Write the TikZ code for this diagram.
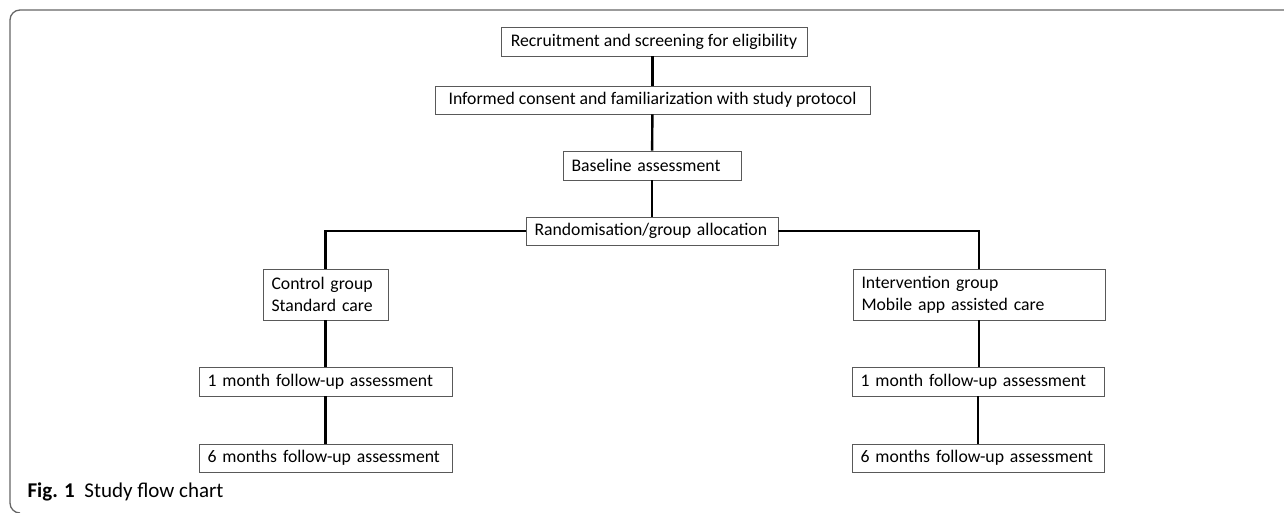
\documentclass[tikz,border=0pt]{standalone}
\usepackage{fontspec}
\setmainfont{Carlito}
\usepackage{tikz}
\usetikzlibrary{calc}
\tikzset{
  stepbox/.style={
    draw=black!65,
    line width=0.8pt,
    inner xsep=8.5pt,
    inner ysep=0pt,
    align=left,
    font=\fontsize{17.7}{22}\selectfont},
  widebox/.style={
    stepbox,
    inner xsep=0pt,
    align=center},
  flow/.style={
    line width=2.4pt,
    black}
  }

\begin{document}
\begin{tikzpicture}[x=1pt,y=1pt]
		\useasboundingbox (0,0) rectangle (1284,-513);
		\draw [black!60, line width=1.3pt, rounded corners=10pt] (1284,-10) -- (10,-10) -- (10,-513) -- (20,-513);
		\node [widebox, minimum width=306pt, minimum height=29pt] (rec) at (654,-41.5) {Recruitment and screening for eligibility};
		\node [widebox, minimum width=435pt, minimum height=28pt] (inf) at (652.5,-100) {Informed consent and familiarization with study protocol};
		\node [stepbox, text width=161pt, minimum height=29pt] (base) at (652,-165.5) {Baseline assessment};
		\node [stepbox, text width=235pt, minimum height=28pt] (rand) at (652,-231) {Randomisation/group allocation};
		\node [stepbox, text width=108pt, minimum height=51pt] (ctl) at (325.5,-294.5) {Control group\\Standard care};
		\node [stepbox, text width=235pt, minimum height=51pt] (int) at (979,-294.5) {Intervention group\\Mobile app assisted care};
		\node [stepbox, text width=236pt, minimum height=29pt] (ctlone) at (325.5,-381.5) {1 month follow-up assessment};
		\node [stepbox, text width=236pt, minimum height=28pt] (ctlsix) at (325.5,-458) {6 months follow-up assessment};
		\node [stepbox, text width=235pt, minimum height=29pt] (intone) at (978,-381.5) {1 month follow-up assessment};
		\node [stepbox, text width=235pt, minimum height=28pt] (intsix) at (978,-458) {6 months follow-up assessment};
		\node [anchor=west, font=\fontsize{21}{24}\selectfont] (cap) at (24,-492) {\textbf{Fig. 1}\ \ Study flow chart};
		\draw [flow] (inf.north) to (inf.north |- rec.south);
		\draw [flow] (inf) to (base);
		\draw [flow] (base) to (rand);
		\draw [flow] (rand.west) -| (ctl.north);
		\draw [flow] (rand.east) -| (int.north);
		\draw [flow] (ctl.south) to (ctlone.north -| ctl.south);
		\draw [flow] (ctlone) to (ctlsix);
		\draw [flow] (int.south) to (intone.north -| int.south);
		\draw [flow] (intone) to (intsix);
	\end{tikzpicture}
\end{document}
